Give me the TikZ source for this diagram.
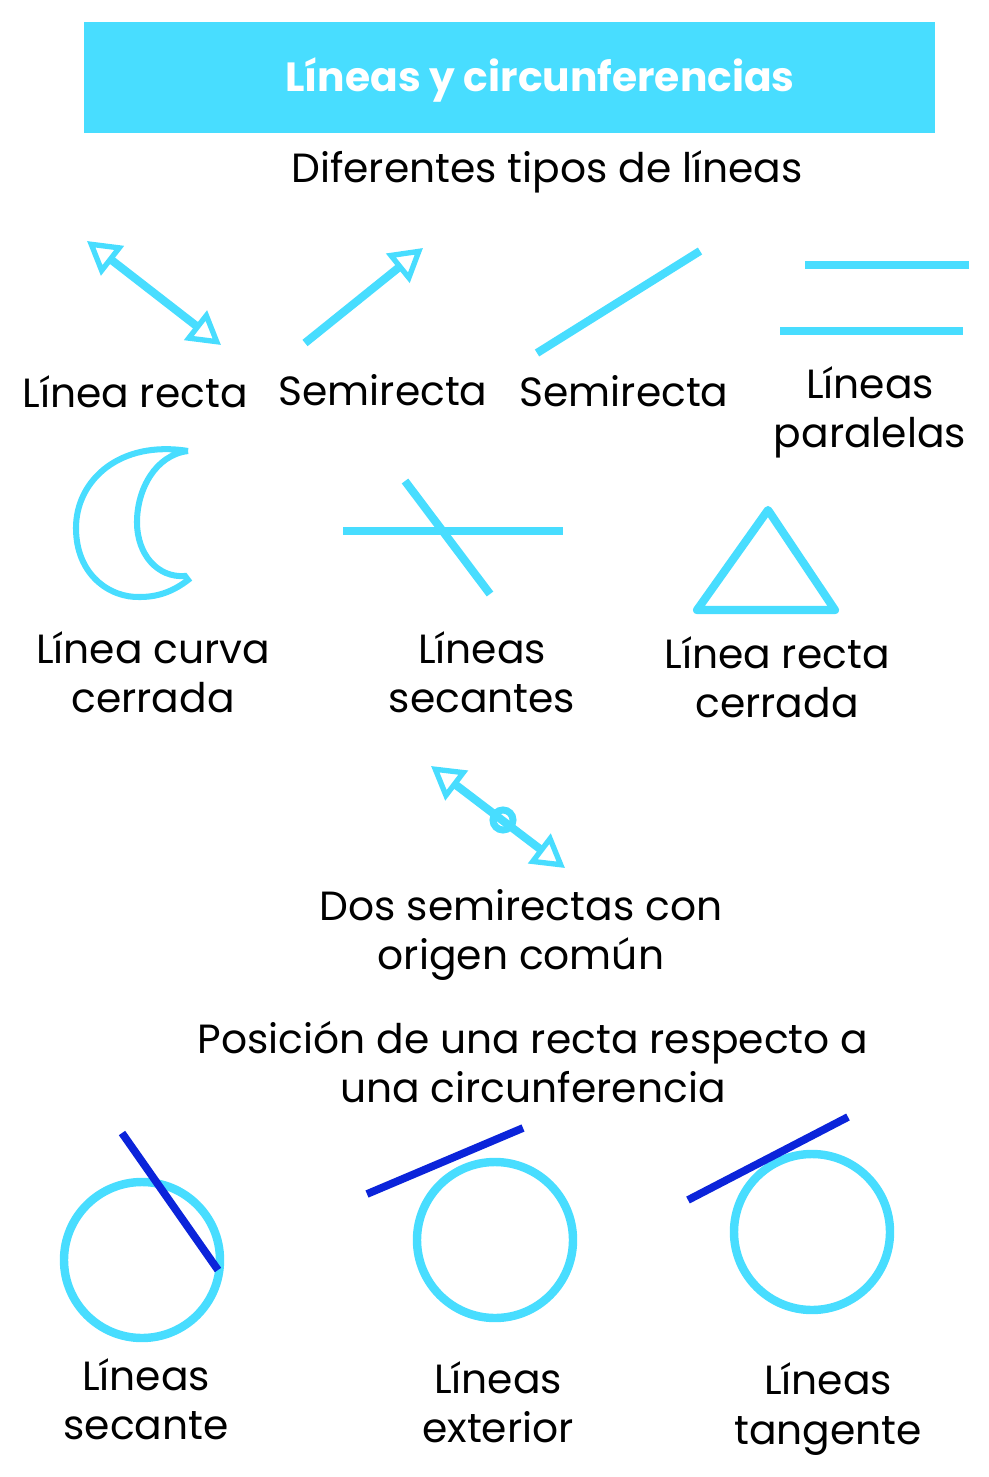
\documentclass[tikz,border=0pt]{standalone}
\usepackage{fontspec}
\setmainfont{Poppins}
\usetikzlibrary{arrows.meta}
\definecolor{celeste}{HTML}{48DDFF}
\definecolor{azul}{HTML}{0B24DA}
\begin{document}
\begin{tikzpicture}[
  x=0.025cm, y=-0.025cm,
  >={Triangle[open, length=23pt, width=26pt, line width=3.8pt]},
  lbl/.style={align=center, inner sep=0pt, font=\fontsize{29}{35}\selectfont},
  trazo/.style={draw=celeste, line width=5.8pt},
  recta/.style={draw=azul, line width=5.5pt}
]
\useasboundingbox (0,0) rectangle (988,1477);
\fill[celeste] (84,22) rectangle (935,133);
\node[lbl, text=white, font=\fontsize{29}{35}\selectfont\bfseries] (titulo) at (540,80) {Líneas y circunferencias};
\node[lbl] (tipos) at (547,172) {Diferentes tipos de líneas};
\draw[trazo, <->] (87,241) -- (221,345);
\draw[trazo, ->] (305,343) -- (423,248);
\draw[trazo] (537,353) -- (700,251);
\draw[trazo] (805,265) -- (969,265);
\draw[trazo] (780,331) -- (963,331);
\node[lbl] (linearecta) at (135,392) {Línea recta};
\node[lbl] (semirecta) at (383,390) {Semirecta};
\node[lbl] (segmento) at (624,391) {Semirecta};
\node[lbl] (paralelas) at (870,412) {Líneas\\paralelas};
\draw[trazo, line width=4.3pt] (188,451) .. controls (120,440) and (76,480) .. (76,528)
  .. controls (76,575) and (110,598) .. (140,597) .. controls (160,597) and (175,590) .. (188,580)
  -- (185,576) .. controls (158,578) and (137,555) .. (137,522) .. controls (137,490) and (155,455) .. (188,451);
\draw[trazo] (343,531) -- (563,531);
\draw[trazo] (405,481) -- (490,594);
\draw[trazo, line join=round] (768,510) -- (835,610) -- (697,610) -- cycle;
\node[lbl] (curva) at (153,672) {Línea curva\\cerrada};
\node[lbl] (secantes) at (482,672) {Líneas\\secantes};
\node[lbl] (poligonal) at (777,677) {Línea recta\\cerrada};
\draw[trazo, <->] (431,766) -- (565,868);
\draw[trazo, line width=5pt] (503,820) circle (10);
\node[lbl] (origen) at (521,935) {Dos semirectas con\\origen común};
\node[lbl] (posicion) at (533,1062) {Posición de una recta respecto a\\una circunferencia};
\draw[trazo, line width=6pt] (142,1260) circle (78);
\draw[recta] (122,1133) -- (218,1270);
\draw[trazo, line width=6pt] (495,1240) circle (78);
\draw[recta] (367,1194) -- (523,1128);
\draw[trazo, line width=6pt] (812,1232) circle (78);
\draw[recta] (688,1200) -- (848,1117);
\node[lbl] (secante) at (146,1399) {Líneas\\secante};
\node[lbl] (exterior) at (498,1402) {Líneas\\exterior};
\node[lbl] (tangente) at (828,1409) {Líneas\\tangente};
\end{tikzpicture}
\end{document}
